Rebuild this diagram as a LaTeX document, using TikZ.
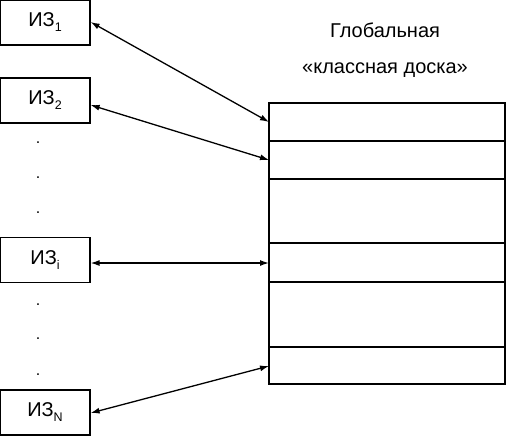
\documentclass[tikz,border=0pt]{standalone}
\usepackage{fontspec}
\setmainfont{Liberation Sans}
\usetikzlibrary{arrows.meta}
\newcommand{\izsub}[1]{\raisebox{-5pt}{\fontsize{12.5}{13}\selectfont #1}}
\begin{document}
\begin{tikzpicture}[x=1pt,y=-1pt,
  izbox/.style={draw,line width=1.2pt,minimum width=90pt,minimum height=45pt,inner sep=0pt,font=\fontsize{20}{24}\selectfont},
  cell/.style={draw,line width=1.2pt},
  link/.style={line width=1.3pt,{Latex[length=9pt,width=6pt]}-{Latex[length=9pt,width=6pt]}},
  dotnode/.style={font=\fontsize{16}{18}\selectfont,inner sep=0pt}]
\useasboundingbox (0,0) rectangle (526,437);
\node[izbox] (iz1) at (45,22.5) {ИЗ\izsub{1}};
\node[izbox] (iz2) at (45,100.5) {ИЗ\izsub{2}};
\node[izbox] (izi) at (45,260) {ИЗ\izsub{i}};
\node[izbox] (izn) at (45,412.5) {ИЗ\izsub{N}};
\foreach \y [count=\k] in {143,178,213,305,339,375}
  \node[dotnode] (d\k) at (38,\y) {.};
\node[font=\fontsize{20}{24}\selectfont] (t1) at (385,30) {Глобальная};
\node[font=\fontsize{20}{24}\selectfont] (t2) at (385,70) {«классная доска»};
\draw[cell] (269,103) rectangle (505,384);
\draw[cell] (269,141) -- (505,141);
\draw[cell] (269,179) -- (505,179);
\draw[cell] (269,243) -- (505,243);
\draw[cell] (269,282) -- (505,282);
\draw[cell] (269,347) -- (505,347);
\coordinate (c1) at (269,122);
\coordinate (c2) at (269,160);
\coordinate (ci) at (269,263);
\coordinate (cn) at (269,366);
\draw[link] (iz1.east |- 0,22) -- (c1);
\draw[link] (iz2.east |- 0,105) -- (c2);
\draw[link] (izi.east |- 0,263) -- (ci);
\draw[link] (izn.east |- 0,413) -- (cn);
\end{tikzpicture}
\end{document}
